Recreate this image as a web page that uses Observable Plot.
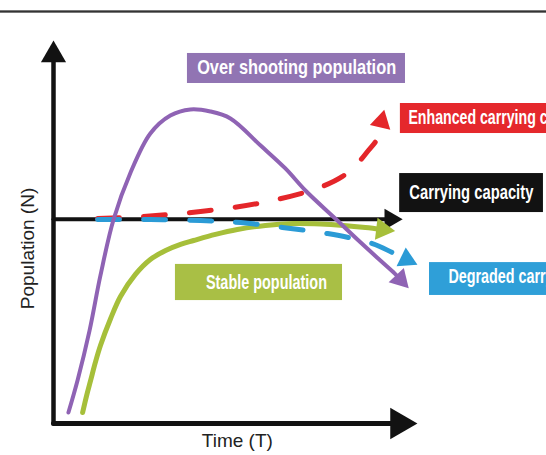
<!DOCTYPE html>
<html><head><meta charset="utf-8">
<script src="https://cdn.jsdelivr.net/npm/d3@7"></script>
<script src="https://cdn.jsdelivr.net/npm/@observablehq/plot@0.6"></script>
<style>
html,body{margin:0;padding:0;background:#fff;}
#wrap{position:relative;width:546px;height:455px;overflow:hidden;background:#fff;}
#topline{position:absolute;left:0;top:10px;width:546px;height:3px;background:linear-gradient(#999,#333,#999);z-index:2;}
</style></head><body>
<div id="wrap"><div id="topline"></div></div>
<script>
// ---- data (time T in arbitrary units 0..100, population N with carrying capacity K = 100) ----
const K = 100;
const capacityTime = [0, 92.6];
const capacityPop  = [K, K];

const overTime = [4.1, 6.6, 9.9, 12.9, 16.5, 21.2, 26.6, 32.1, 37.6, 43.1, 48.6, 56.9, 63.7, 69.2, 77.7, 83.8, 89.8, 93.7, 95.3];
const overPop  = [5.4, 21.1, 45.5, 72.5, 99.9, 123.0, 142.0, 150.8, 153.8, 152.8, 149.4, 136.1, 124.9, 114.1, 99.9, 89.6, 79.8, 73.5, 70.5];

const stableTime = [8.0, 9.1, 10.2, 11.5, 12.9, 15.7, 18.4, 22.5, 26.6, 30.8, 34.9, 38.5, 44.5, 50.5, 58.2, 65.9, 73.4, 79.7, 85.7, 90.4];
const stablePop  = [5.4, 13.7, 21.1, 29.9, 38.2, 51.4, 62.2, 73.0, 80.3, 84.7, 87.7, 89.6, 92.6, 95.0, 97.0, 97.9, 97.7, 97.0, 96.0, 95.0];

const enhancedTime = [12.1, 24.7, 40.4, 56.0, 67.9, 73.9, 79.4, 83.5, 86.5, 89.0, 90.1];
const enhancedPop  = [100.4, 101.4, 103.8, 107.7, 112.6, 116.1, 121.0, 127.3, 133.7, 139.6, 147.9];

const degradedTime = [12.1, 26.6, 40.4, 51.4, 62.9, 75.3, 87.6, 93.1, 97.0];
const degradedPop  = [99.9, 99.9, 99.4, 98.4, 96.0, 93.0, 88.1, 83.7, 80.3];

const yAxisTime = [0, 0],    yAxisPop = [0, 180.5];
const xAxisTime = [0, 95.0], xAxisPop = [0, 0];

const labelNames = ["Over shooting population", "Enhanced carrying capacity", "Carrying capacity", "Degraded carrying capacity", "Stable population"];
const axisTitles = ["Population (N)", "Time (T)"];

// ---- layout ----
const W = 546, H = 455;
const mL = 53, mR = 129, mT = 35, mB = 32;
const xDomain = [0, 100], yDomain = [0, 190];
const sx = d3.scaleLinear(xDomain, [mL, W - mR]);
const sy = d3.scaleLinear(yDomain, [H - mB, mT]);

const col = {
  over: "#8f63b4", stable: "#a6bf3a", enhanced: "#e4262a", degraded: "#2b9bd6", black: "#121212",
  overBox: "#9174b3", stableBox: "#a9bf45", enhancedBox: "#e5282c", degradedBox: "#2f9fd8", blackBox: "#121212"
};

function series(times, pops) { return times.map((t, i) => ({t, n: pops[i]})); }
function head(times, pops) {
  const k = times.length - 1;
  const dx = sx(times[k]) - sx(times[k - 1]);
  const dy = sy(pops[k]) - sy(pops[k - 1]);
  return [{t: times[k], n: pops[k], angle: Math.atan2(dx, -dy) * 180 / Math.PI}];
}

const marks = [];
function curve(times, pops, stroke, width, r, extra = {}) {
  marks.push(Plot.line(series(times, pops), {x: "t", y: "n", stroke, strokeWidth: width, curve: "catmull-rom", ...extra}));
  marks.push(Plot.dot(head(times, pops), {x: "t", y: "n", symbol: "triangle2", r, rotate: "angle", fill: stroke, stroke: "none"}));
}

// label boxes (annotation placement in data units)
const boxes = [
  {label: labelNames[0], t1: 36.8, t2: 96.7, n1: 166.5, n2: 181.2, tx: 66.8, ty: 174.4, anchor: "middle", size: 21, len: 199, fill: col.overBox},
  {label: labelNames[1], t1: 95.3, t2: 140,  n1: 142.0, n2: 156.7, tx: 97.5, ty: 149.6, anchor: "start",  size: 20, len: 188, fill: col.enhancedBox},
  {label: labelNames[2], t1: 95.1, t2: 134.6, n1: 103.3, n2: 122.4, tx: 114.8, ty: 113.2, anchor: "middle", size: 20, len: 124, fill: col.blackBox},
  {label: labelNames[3], t1: 103.3, t2: 140, n1: 62.7, n2: 78.8, tx: 108.5, ty: 71.7, anchor: "start",  size: 20, len: 188, fill: col.degradedBox},
  {label: labelNames[4], t1: 33.5, t2: 79.4, n1: 60.2, n2: 77.9, tx: 58.5, ty: 69.0, anchor: "middle", size: 20, len: 121, fill: col.stableBox}
];

curve(capacityTime, capacityPop, col.black, 4, 10, {curve: "linear"});
curve(stableTime, stablePop, col.stable, 5, 10.5);
curve(enhancedTime, enhancedPop, col.enhanced, 5, 10, {strokeDasharray: "22,24"});
curve(degradedTime, degradedPop, col.degraded, 5, 10, {strokeDasharray: "22,24"});
curve(overTime, overPop, col.over, 4, 10);
curve(yAxisTime, yAxisPop, col.black, 4.5, 12, {curve: "linear"});
curve(xAxisTime, xAxisPop, col.black, 5, 15, {curve: "linear"});

const boldFont = "'Liberation Sans', Arial, sans-serif";
marks.push(Plot.rect(boxes, {x1: "t1", x2: "t2", y1: "n1", y2: "n2", fill: "fill"}));
for (const b of boxes) {
  marks.push(Plot.text([b], {x: "tx", y: "ty", text: "label", textAnchor: b.anchor, fill: "white",
    fontSize: b.size, fontWeight: "bold", fontFamily: boldFont}));
}
marks.push(Plot.text([axisTitles[0]], {x: -6.9, y: 85.7, text: d => d, rotate: -90, fontSize: 19, fill: "#222", fontFamily: "'Liberation Sans', Arial, sans-serif"}));
marks.push(Plot.text([axisTitles[1]], {x: 50.5, y: -8.3, text: d => d, fontSize: 19, fill: "#222", fontFamily: "'Liberation Sans', Arial, sans-serif"}));

const chart = Plot.plot({
  width: W, height: H,
  marginLeft: mL, marginRight: mR, marginTop: mT, marginBottom: mB,
  x: {domain: xDomain, axis: null},
  y: {domain: yDomain, axis: null},
  color: {type: "identity"},
  style: {background: "#fff", overflow: "visible"},
  marks
});
// condensed look: compress the bold label glyphs to the widths seen in the reference
chart.querySelectorAll("text").forEach(el => {
  const b = boxes.find(d => d.label === el.textContent);
  if (b) { el.setAttribute("textLength", b.len); el.setAttribute("lengthAdjust", "spacingAndGlyphs"); }
});
document.getElementById("wrap").appendChild(chart);
</script>
</body></html>
